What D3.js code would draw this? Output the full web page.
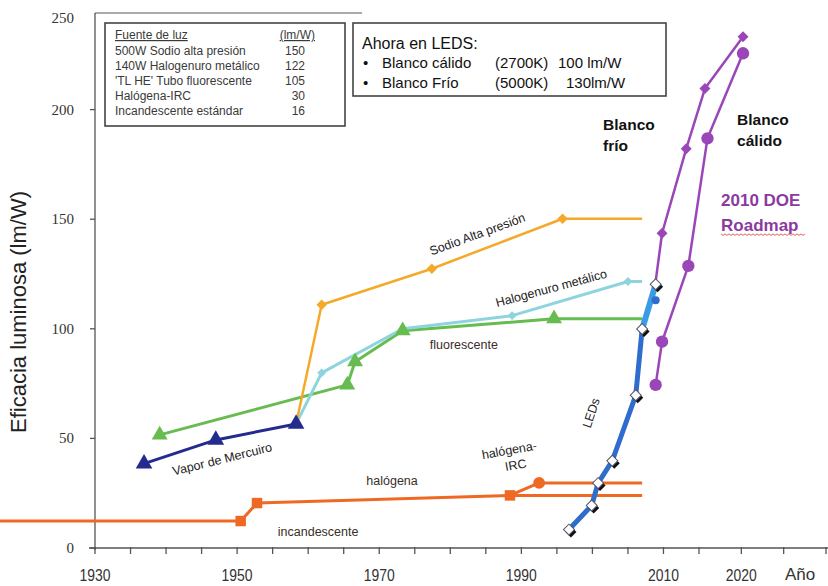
<!DOCTYPE html>
<html><head><meta charset="utf-8">
<script src="https://cdn.jsdelivr.net/npm/d3@7"></script>
<style>body{margin:0;background:#fff}svg{display:block}</style>
</head><body>
<svg id="c" width="828" height="586"></svg>
<script>
// ---- data ----
const xTickYears = [1930,1935,1940,1945,1950,1955,1960,1965,1970,1975,1980,1985,1990,1995,2000,2005,2010,2015,2020,2025,2030];
const xLabelYears = [1930,1950,1970,1990,2010,2020];
const yTicks = [0,50,100,150,200,250];

const incandYears = [1916.6, 1950.5, 1952.8, 1988.4, 2007];
const incandValues = [12.3, 12.3, 20.5, 24.0, 24.0];
const incandMarks = [1,2,3];

const irqYears = [1988.4, 1992.5, 2007];
const irqValues = [24.0, 29.7, 29.7];
const irqMarks = [1];

const mercYears = [1936.9, 1947.0, 1958.3];
const mercValues = [38.5, 49.3, 56.6];

const sodYears = [1958.3, 1961.9, 1977.4, 1995.8, 2007];
const sodValues = [56.6, 111, 127.4, 150.2, 150.2];
const sodMarks = [1,2,3];

const mhYears = [1958.3, 1961.9, 1973.3, 1988.7, 2005, 2007];
const mhValues = [56.6, 79.9, 100, 106, 121.6, 121.6];
const mhMarks = [1,2,3,4];

const flYears = [1939.1, 1965.5, 1966.6, 1973.3, 1994.6, 2007];
const flValues = [51.6, 74.4, 85, 99.1, 104.6, 104.6];
const flMarks = [0,1,2,3,4];

const ledYears = [1996.7, 1999.9, 2000.8, 2002.8, 2006.1, 2007.0];
const ledValues = [8.4, 19.4, 29.6, 39.8, 69.7, 99.9];
const ledNewYears = [2007.0, 2008.9];
const ledNewValues = [99.9, 120.3];
const ledDotYear = 2008.9, ledDotValue = 113;

const coolYears = [2008.9, 2009.8, 2013.2, 2015.7, 2020.2];
const coolValues = [121.6, 143.6, 182.1, 209.6, 233.2];
const coolMarks = [1,2,3,4];

const warmYears = [2008.9, 2009.8, 2013.5, 2016.0, 2020.2];
const warmValues = [74.4, 94.1, 128.7, 186.9, 225.7];
const warmMarks = [0,1,2,3,4];

const legendHeader = ["Fuente de luz", "(lm/W)"];
const legendNames = ["500W Sodio alta presión","140W Halogenuro metálico","'TL HE' Tubo fluorescente","Halógena-IRC","Incandescente estándar"];
const legendValues = [150,122,105,30,16];

const ledBoxTitle = "Ahora en LEDS:";
const ledBoxNames = ["Blanco cálido", "Blanco Frío"];
const ledBoxTemps = ["(2700K)", "(5000K)"];
const ledBoxVals = ["100 lm/W", "130lm/W"];

// ---- scales ----
const svg = d3.select("#c");
const x = d3.scaleLinear().domain([1930, 2015, 2030]).range([95, 699, 826]);
const y = d3.scaleLinear().domain([0, 250]).range([548, 0]);

const C = {
  orange:"#EE6A24", sod:"#F5A92A", mh:"#8ED4DF", fl:"#67BC50", merc:"#232C8E",
  led:"#2E6DCB", ledNew:"#3A9BE6", purple:"#9B46B8", doe:"#8B3A9E"
};
const F = "Liberation Sans, Arial, sans-serif";

// ---- axes ----
const ax = svg.append("g").attr("stroke","#555").attr("fill","none");
ax.append("line").attr("x1",x(1930)).attr("x2",x(1930)).attr("y1",13).attr("y2",y(0)+2).attr("stroke-width",1.3);
ax.append("line").attr("x1",x(1930)-6).attr("x2",828).attr("y1",y(0)).attr("y2",y(0)).attr("stroke-width",1.3);
ax.append("line").attr("x1",x(1930)).attr("x2",362).attr("y1",13).attr("y2",13).attr("stroke-width",1.2);
xTickYears.forEach(t=>{
  ax.append("line").attr("x1",x(t)).attr("x2",x(t)).attr("y1",y(0)-1).attr("y2",y(0)+6).attr("stroke-width",1.3);
});
yTicks.filter(t=>t<250).forEach(t=>{
  ax.append("line").attr("x1",x(1930)-5).attr("x2",x(1930)).attr("y1",y(t)).attr("y2",y(t)).attr("stroke-width",1.3);
});
svg.append("g").selectAll("text").data(yTicks).join("text")
  .attr("x", x(1930)-21).attr("y", d=> d===250 ? 23 : y(d)+5)
  .attr("text-anchor","end").attr("font-family","Liberation Serif, serif")
  .attr("font-size",15).attr("fill","#333").text(d=>d);
svg.append("g").selectAll("text").data(xLabelYears).join("text")
  .attr("text-anchor","middle")
  .attr("font-family",F).attr("font-size",17)
  .attr("fill","#333").attr("transform",d=>`translate(${x(d)},581) scale(0.82,1)`).text(d=>d);
svg.append("text").attr("x",800).attr("y",580).attr("text-anchor","middle")
  .attr("font-family",F).attr("font-size",17).attr("fill","#333").text("Año");
svg.append("text").attr("transform",`translate(26,312) rotate(-90)`).attr("text-anchor","middle")
  .attr("font-family",F).attr("font-size",22).attr("fill","#222")
  .text("Eficacia luminosa (lm/W)");

// ---- helpers ----
const line = d3.line().x(d=>x(d[0])).y(d=>y(d[1]));
function series(years, values, color, width){
  const pts = years.map((yr,i)=>[yr, values[i]]);
  svg.append("path").datum(pts).attr("d",line).attr("fill","none")
    .attr("stroke",color).attr("stroke-width",width).attr("stroke-linejoin","round");
  return pts;
}
function marks(pts, idx, sym, size, color, rot){
  svg.append("g").selectAll("path").data(idx.map(i=>pts[i])).join("path")
    .attr("d", d3.symbol().type(sym).size(size))
    .attr("transform", d=>`translate(${x(d[0])},${y(d[1])}) rotate(${rot||0})`)
    .attr("fill", color);
}

// ---- series ----
let p;
p = series(incandYears, incandValues, C.orange, 3);
marks(p, incandMarks, d3.symbolSquare, 110, C.orange);
p = series(irqYears, irqValues, C.orange, 3);
marks(p, irqMarks, d3.symbolCircle, 110, C.orange);

const flPts = series(flYears, flValues, C.fl, 3);
p = series(mhYears, mhValues, C.mh, 3);
marks(p, mhMarks, d3.symbolSquare, 40, C.mh, 45);
p = series(sodYears, sodValues, C.sod, 2.5);
marks(p, sodMarks, d3.symbolSquare, 55, C.sod, 45);
marks(flPts, flMarks, d3.symbolTriangle, 110, C.fl);
p = series(mercYears, mercValues, C.merc, 3);
marks(p, [0,1,2], d3.symbolTriangle, 120, C.merc);

// purple roadmap
p = series(coolYears, coolValues, C.purple, 2.5);
marks(p, coolMarks, d3.symbolSquare, 60, C.purple, 45);
p = series(warmYears, warmValues, C.purple, 2.5);
marks(p, warmMarks, d3.symbolCircle, 120, C.purple);

// LED
p = series(ledYears, ledValues, C.led, 5);
const ledPts = p.concat([[ledNewYears[1], ledNewValues[1]]]);
series(ledNewYears, ledNewValues, C.ledNew, 6);
svg.append("circle").attr("cx",x(ledDotYear)).attr("cy",y(ledDotValue)).attr("r",4).attr("fill",C.led);
const lg = svg.append("g").selectAll("g").data(ledPts).join("g")
  .attr("transform", d=>`translate(${x(d[0])},${y(d[1])})`);
lg.append("path").attr("d", d3.symbol().type(d3.symbolSquare).size(60)).attr("transform","translate(2,2.5) rotate(45)").attr("fill","#111");
lg.append("path").attr("d", d3.symbol().type(d3.symbolSquare).size(60)).attr("transform","rotate(45)").attr("fill","#fff").attr("stroke","#556").attr("stroke-width",1);

// ---- annotations ----
function ann(txt, yr, val, rot, size, opts){
  opts = opts||{};
  svg.append("text").attr("transform",`translate(${x(yr)},${y(val)}) rotate(${rot})`)
    .attr("text-anchor",opts.anchor||"middle").attr("dy","0.35em").attr("font-family",F).attr("font-size",size)
    .attr("font-weight",opts.bold?"bold":"normal").attr("fill",opts.color||"#222").text(txt);
}
ann("Sodio Alta presión", 1983.8, 143.2, -20, 12.5);
ann("Halogenuro metálico", 1994.2, 118.6, -15, 12.5);
ann("fluorescente", 1981.9, 92.6, 0, 12.5, {color:"#3a2e28"});
ann("Vapor de Mercuiro", 1947.9, 40.6, -14, 12.5);
ann("halógena", 1971.8, 30.6, 0, 12.5, {color:"#3a2e28"});
ann("incandescente", 1961.4, 7.3, 0, 12.5, {color:"#3a2e28"});
ann("halógena-", 1988.3, 44.7, -10, 12.5);
ann("IRC", 1989.2, 37.9, -10, 12.5);
ann("LEDs", 1999.8, 61.6, -72, 12.5);
ann("Blanco", 2001.5, 193.4, 0, 15.5, {bold:true, anchor:"start", color:"#111"});
ann("frío", 2001.5, 183.4, 0, 15.5, {bold:true, anchor:"start", color:"#111"});
ann("Blanco", 2019.5, 195.3, 0, 15.5, {bold:true, anchor:"start", color:"#111"});
ann("cálido", 2019.5, 185.7, 0, 15.5, {bold:true, anchor:"start", color:"#111"});
ann("2010 DOE", 2017.6, 158.8, 0, 17, {bold:true, anchor:"start", color:C.doe});
ann("Roadmap", 2017.6, 147.4, 0, 17, {bold:true, anchor:"start", color:C.doe});
// spell-check wavy underline under "Roadmap"
(function(){
  const x0 = x(2017.6), x1 = x0 + 84, yy = y(147.4)+9;
  let d = `M${x0},${yy}`;
  for (let xx = x0; xx < x1; xx += 4) d += ` l2,1.5 l2,-1.5`;
  svg.append("path").attr("d",d).attr("fill","none").attr("stroke","#e05050").attr("stroke-width",0.9);
})();

// ---- legend table ----
const lgx = 105, lgy = 23;
svg.append("rect").attr("x",lgx).attr("y",lgy).attr("width",240).attr("height",103)
  .attr("fill","#fff").attr("stroke","#444").attr("stroke-width",1.6);
const tg = svg.append("g").attr("font-family",F).attr("font-size",12).attr("fill","#3a3a3a");
tg.append("text").attr("x",lgx+10).attr("y",lgy+16).attr("text-decoration","underline").text(legendHeader[0]);
tg.append("text").attr("x",lgx+210).attr("y",lgy+16).attr("text-anchor","end").attr("text-decoration","underline").text(legendHeader[1]);
legendNames.forEach((n,i)=>{
  tg.append("text").attr("x",lgx+10).attr("y",lgy+31.5+i*15.2).text(n);
  tg.append("text").attr("x",lgx+200).attr("y",lgy+31.5+i*15.2).attr("text-anchor","end").text(legendValues[i]);
});

// ---- LEDs box ----
const bx = 353, by = 23;
svg.append("rect").attr("x",bx).attr("y",by).attr("width",313).attr("height",73)
  .attr("fill","#fff").attr("stroke","#444").attr("stroke-width",1.6);
const bg = svg.append("g").attr("font-family",F).attr("font-size",15).attr("fill","#111");
bg.append("text").attr("x",bx+9).attr("y",by+26).attr("font-size",16).text(ledBoxTitle);
ledBoxNames.forEach((n,i)=>{
  const yy = by + 45 + i*19.5;
  bg.append("text").attr("x",bx+10).attr("y",yy).text("•");
  bg.append("text").attr("x",bx+29).attr("y",yy).text(n);
  bg.append("text").attr("x",bx+142).attr("y",yy).text(ledBoxTemps[i]);
  bg.append("text").attr("x",bx+(i===0?205:213)).attr("y",yy).text(ledBoxVals[i]);
});
</script>
</body></html>
